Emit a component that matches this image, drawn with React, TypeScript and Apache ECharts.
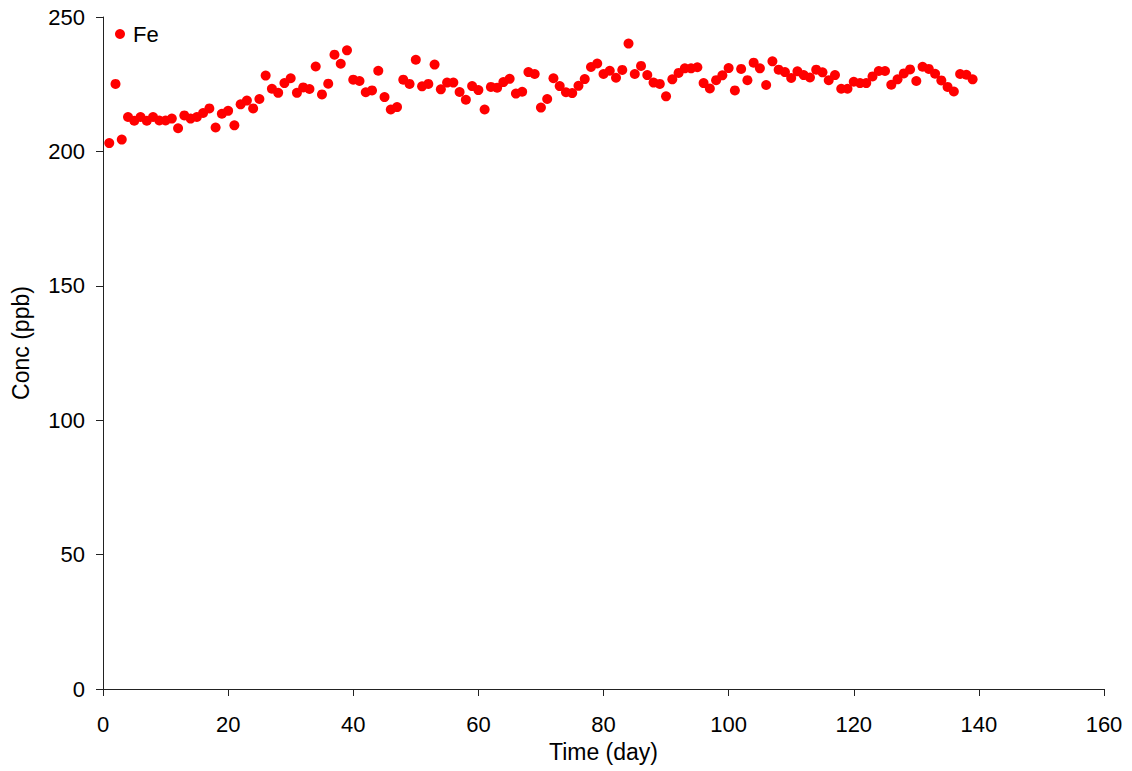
import React, { useEffect, useRef } from "react";
import * as echarts from "echarts";

// Fe concentration measured once per day
const days: number[] = Array.from({ length: 139 }, (_, i) => i + 1);

const feConc: number[] = [
  203.1, 225.1, 204.4, 212.8, 211.4, 212.8, 211.4, 212.8, 211.5, 211.5,
  212.2, 208.6, 213.4, 212.2, 212.8, 214.3, 216.0, 208.9, 214.0, 215.1,
  209.7, 217.5, 218.9, 216.0, 219.5, 228.2, 223.3, 221.8, 225.4, 227.2,
  221.8, 223.8, 223.2, 231.6, 221.2, 225.2, 236.0, 232.6, 237.6, 226.7,
  226.2, 222.0, 222.7, 230.0, 220.2, 215.6, 216.5, 226.7, 225.1, 234.1,
  224.2, 225.1, 232.3, 223.1, 225.6, 225.6, 222.1, 219.2, 224.3, 222.8,
  215.6, 224.0, 223.7, 225.8, 227.0, 221.5, 222.2, 229.5, 228.8, 216.3,
  219.5, 227.2, 224.3, 222.0, 221.7, 224.4, 226.9, 231.4, 232.7, 228.8,
  230.0, 227.4, 230.3, 240.1, 228.8, 231.8, 228.4, 225.6, 225.1, 220.5,
  226.8, 229.2, 230.9, 230.9, 231.3, 225.4, 223.4, 226.5, 228.3, 231.0,
  222.7, 230.7, 226.5, 233.0, 230.9, 224.7, 233.5, 230.4, 229.5, 227.3,
  229.8, 228.4, 227.5, 230.4, 229.4, 226.5, 228.4, 223.3, 223.3, 225.9,
  225.4, 225.4, 227.9, 229.9, 229.9, 224.8, 226.8, 229.0, 230.5, 226.2,
  231.5, 230.7, 228.9, 226.4, 224.0, 222.3, 228.8, 228.5, 226.8,
];

const xTicks = { min: 0, max: 160, interval: 20 };
const yTicks = { min: 0, max: 250, interval: 50 };

const FONT = "'Liberation Sans', Arial, Helvetica, sans-serif";

export default function App() {
  const ref = useRef<HTMLDivElement>(null);

  useEffect(() => {
    if (!ref.current) return;
    const chart = echarts.init(ref.current, undefined, { renderer: "svg" });

    const points = days.map((d, i) => [d, feConc[i]]);

    chart.setOption({
      animation: false,
      backgroundColor: "#ffffff",
      textStyle: { fontFamily: FONT },
      grid: { left: 103, right: 28, top: 17, bottom: 82, containLabel: false },
      legend: {
        left: 110,
        top: 18,
        icon: "circle",
        itemWidth: 10,
        itemHeight: 10,
        itemGap: 4,
        textStyle: { fontSize: 22, color: "#000", fontFamily: FONT, padding: [0, 0, 0, 3] },
        data: ["Fe"],
      },
      xAxis: {
        type: "value",
        min: xTicks.min,
        max: xTicks.max,
        interval: xTicks.interval,
        name: "Time (day)",
        nameLocation: "middle",
        nameGap: 51,
        nameTextStyle: { fontSize: 23, color: "#000", fontFamily: FONT },
        axisLine: { show: true, onZero: false, lineStyle: { color: "#222", width: 1 } },
        axisTick: { show: true, inside: false, length: 7, lineStyle: { color: "#222" } },
        axisLabel: { fontSize: 22, color: "#000", margin: 24, fontFamily: FONT },
        splitLine: { show: false },
      },
      yAxis: {
        type: "value",
        min: yTicks.min,
        max: yTicks.max,
        interval: yTicks.interval,
        name: "Conc (ppb)",
        nameLocation: "middle",
        nameGap: 71,
        nameTextStyle: { fontSize: 23, color: "#000", fontFamily: FONT, padding: [0, 0, 0, 20] },
        axisLine: { show: true, onZero: false, lineStyle: { color: "#222", width: 1 } },
        axisTick: { show: true, inside: false, length: 7, lineStyle: { color: "#222" } },
        axisLabel: { fontSize: 22, color: "#000", margin: 18, fontFamily: FONT },
        splitLine: { show: false },
      },
      series: [
        {
          name: "Fe",
          type: "scatter",
          symbol: "circle",
          symbolSize: 10,
          itemStyle: { color: "#ff0000", opacity: 1 },
          data: points,
        },
      ],
    });

    return () => chart.dispose();
  }, []);

  return (
    <div
      ref={ref}
      style={{ position: "fixed", left: 0, top: 0, width: 1132, height: 771, background: "#fff" }}
    />
  );
}
